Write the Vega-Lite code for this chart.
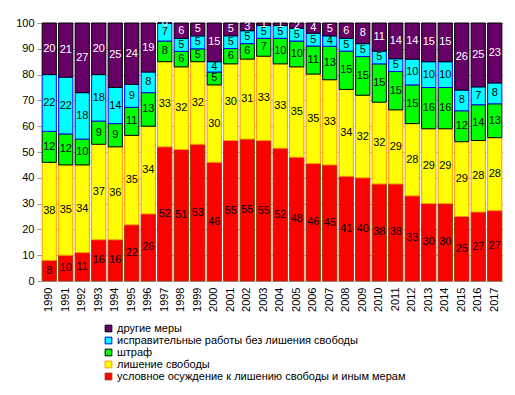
{
  "$schema": "https://vega.github.io/schema/vega-lite/v6.json",
  "width": 462,
  "height": 258,
  "autosize": "none",
  "padding": {"left": 41, "top": 23, "right": 12, "bottom": 114},
  "background": "white",
  "config": {
    "font": "Liberation Sans",
    "view": {"stroke": null},
    "axis": {"labelFont": "Liberation Sans", "labelFontSize": 11, "labelColor": "black"},
    "axisY": {"labelOverlap": false, "domain": false, "tickSize": 4, "tickColor": "#999999", "gridColor": "#c0c0c0", "labelPadding": 3}
  },
  "data": {"values": [
    {"year":"1990","measure":"условное осуждение к лишению  свободы и  иным мерам","k":1,"value":8},
    {"year":"1990","measure":"лишение  свободы","k":2,"value":38},
    {"year":"1990","measure":"штраф","k":3,"value":12},
    {"year":"1990","measure":"исправительные работы без лишения  свободы","k":4,"value":22},
    {"year":"1990","measure":"другие меры","k":5,"value":20},
    {"year":"1991","measure":"условное осуждение к лишению  свободы и  иным мерам","k":1,"value":10},
    {"year":"1991","measure":"лишение  свободы","k":2,"value":35},
    {"year":"1991","measure":"штраф","k":3,"value":12},
    {"year":"1991","measure":"исправительные работы без лишения  свободы","k":4,"value":22},
    {"year":"1991","measure":"другие меры","k":5,"value":21},
    {"year":"1992","measure":"условное осуждение к лишению  свободы и  иным мерам","k":1,"value":11},
    {"year":"1992","measure":"лишение  свободы","k":2,"value":34},
    {"year":"1992","measure":"штраф","k":3,"value":10},
    {"year":"1992","measure":"исправительные работы без лишения  свободы","k":4,"value":18},
    {"year":"1992","measure":"другие меры","k":5,"value":27},
    {"year":"1993","measure":"условное осуждение к лишению  свободы и  иным мерам","k":1,"value":16},
    {"year":"1993","measure":"лишение  свободы","k":2,"value":37},
    {"year":"1993","measure":"штраф","k":3,"value":9},
    {"year":"1993","measure":"исправительные работы без лишения  свободы","k":4,"value":18},
    {"year":"1993","measure":"другие меры","k":5,"value":20},
    {"year":"1994","measure":"условное осуждение к лишению  свободы и  иным мерам","k":1,"value":16},
    {"year":"1994","measure":"лишение  свободы","k":2,"value":36},
    {"year":"1994","measure":"штраф","k":3,"value":9},
    {"year":"1994","measure":"исправительные работы без лишения  свободы","k":4,"value":14},
    {"year":"1994","measure":"другие меры","k":5,"value":25},
    {"year":"1995","measure":"условное осуждение к лишению  свободы и  иным мерам","k":1,"value":22},
    {"year":"1995","measure":"лишение  свободы","k":2,"value":35},
    {"year":"1995","measure":"штраф","k":3,"value":11},
    {"year":"1995","measure":"исправительные работы без лишения  свободы","k":4,"value":9},
    {"year":"1995","measure":"другие меры","k":5,"value":24},
    {"year":"1996","measure":"условное осуждение к лишению  свободы и  иным мерам","k":1,"value":26},
    {"year":"1996","measure":"лишение  свободы","k":2,"value":34},
    {"year":"1996","measure":"штраф","k":3,"value":13},
    {"year":"1996","measure":"исправительные работы без лишения  свободы","k":4,"value":8},
    {"year":"1996","measure":"другие меры","k":5,"value":19},
    {"year":"1997","measure":"условное осуждение к лишению  свободы и  иным мерам","k":1,"value":52},
    {"year":"1997","measure":"лишение  свободы","k":2,"value":33},
    {"year":"1997","measure":"штраф","k":3,"value":8},
    {"year":"1997","measure":"исправительные работы без лишения  свободы","k":4,"value":7},
    {"year":"1997","measure":"другие меры","k":5,"value":0},
    {"year":"1998","measure":"условное осуждение к лишению  свободы и  иным мерам","k":1,"value":51},
    {"year":"1998","measure":"лишение  свободы","k":2,"value":32},
    {"year":"1998","measure":"штраф","k":3,"value":6},
    {"year":"1998","measure":"исправительные работы без лишения  свободы","k":4,"value":5},
    {"year":"1998","measure":"другие меры","k":5,"value":6},
    {"year":"1999","measure":"условное осуждение к лишению  свободы и  иным мерам","k":1,"value":53},
    {"year":"1999","measure":"лишение  свободы","k":2,"value":32},
    {"year":"1999","measure":"штраф","k":3,"value":5},
    {"year":"1999","measure":"исправительные работы без лишения  свободы","k":4,"value":5},
    {"year":"1999","measure":"другие меры","k":5,"value":5},
    {"year":"2000","measure":"условное осуждение к лишению  свободы и  иным мерам","k":1,"value":46},
    {"year":"2000","measure":"лишение  свободы","k":2,"value":30},
    {"year":"2000","measure":"штраф","k":3,"value":5},
    {"year":"2000","measure":"исправительные работы без лишения  свободы","k":4,"value":4},
    {"year":"2000","measure":"другие меры","k":5,"value":15},
    {"year":"2001","measure":"условное осуждение к лишению  свободы и  иным мерам","k":1,"value":55},
    {"year":"2001","measure":"лишение  свободы","k":2,"value":30},
    {"year":"2001","measure":"штраф","k":3,"value":6},
    {"year":"2001","measure":"исправительные работы без лишения  свободы","k":4,"value":5},
    {"year":"2001","measure":"другие меры","k":5,"value":5},
    {"year":"2002","measure":"условное осуждение к лишению  свободы и  иным мерам","k":1,"value":55},
    {"year":"2002","measure":"лишение  свободы","k":2,"value":31},
    {"year":"2002","measure":"штраф","k":3,"value":6},
    {"year":"2002","measure":"исправительные работы без лишения  свободы","k":4,"value":5},
    {"year":"2002","measure":"другие меры","k":5,"value":3},
    {"year":"2003","measure":"условное осуждение к лишению  свободы и  иным мерам","k":1,"value":55},
    {"year":"2003","measure":"лишение  свободы","k":2,"value":33},
    {"year":"2003","measure":"штраф","k":3,"value":7},
    {"year":"2003","measure":"исправительные работы без лишения  свободы","k":4,"value":5},
    {"year":"2003","measure":"другие меры","k":5,"value":1},
    {"year":"2004","measure":"условное осуждение к лишению  свободы и  иным мерам","k":1,"value":52},
    {"year":"2004","measure":"лишение  свободы","k":2,"value":33},
    {"year":"2004","measure":"штраф","k":3,"value":10},
    {"year":"2004","measure":"исправительные работы без лишения  свободы","k":4,"value":5},
    {"year":"2004","measure":"другие меры","k":5,"value":1},
    {"year":"2005","measure":"условное осуждение к лишению  свободы и  иным мерам","k":1,"value":48},
    {"year":"2005","measure":"лишение  свободы","k":2,"value":35},
    {"year":"2005","measure":"штраф","k":3,"value":10},
    {"year":"2005","measure":"исправительные работы без лишения  свободы","k":4,"value":5},
    {"year":"2005","measure":"другие меры","k":5,"value":2},
    {"year":"2006","measure":"условное осуждение к лишению  свободы и  иным мерам","k":1,"value":46},
    {"year":"2006","measure":"лишение  свободы","k":2,"value":35},
    {"year":"2006","measure":"штраф","k":3,"value":11},
    {"year":"2006","measure":"исправительные работы без лишения  свободы","k":4,"value":5},
    {"year":"2006","measure":"другие меры","k":5,"value":4},
    {"year":"2007","measure":"условное осуждение к лишению  свободы и  иным мерам","k":1,"value":45},
    {"year":"2007","measure":"лишение  свободы","k":2,"value":33},
    {"year":"2007","measure":"штраф","k":3,"value":13},
    {"year":"2007","measure":"исправительные работы без лишения  свободы","k":4,"value":4},
    {"year":"2007","measure":"другие меры","k":5,"value":5},
    {"year":"2008","measure":"условное осуждение к лишению  свободы и  иным мерам","k":1,"value":41},
    {"year":"2008","measure":"лишение  свободы","k":2,"value":34},
    {"year":"2008","measure":"штраф","k":3,"value":15},
    {"year":"2008","measure":"исправительные работы без лишения  свободы","k":4,"value":5},
    {"year":"2008","measure":"другие меры","k":5,"value":6},
    {"year":"2009","measure":"условное осуждение к лишению  свободы и  иным мерам","k":1,"value":40},
    {"year":"2009","measure":"лишение  свободы","k":2,"value":32},
    {"year":"2009","measure":"штраф","k":3,"value":15},
    {"year":"2009","measure":"исправительные работы без лишения  свободы","k":4,"value":5},
    {"year":"2009","measure":"другие меры","k":5,"value":8},
    {"year":"2010","measure":"условное осуждение к лишению  свободы и  иным мерам","k":1,"value":38},
    {"year":"2010","measure":"лишение  свободы","k":2,"value":32},
    {"year":"2010","measure":"штраф","k":3,"value":15},
    {"year":"2010","measure":"исправительные работы без лишения  свободы","k":4,"value":5},
    {"year":"2010","measure":"другие меры","k":5,"value":11},
    {"year":"2011","measure":"условное осуждение к лишению  свободы и  иным мерам","k":1,"value":38},
    {"year":"2011","measure":"лишение  свободы","k":2,"value":29},
    {"year":"2011","measure":"штраф","k":3,"value":15},
    {"year":"2011","measure":"исправительные работы без лишения  свободы","k":4,"value":5},
    {"year":"2011","measure":"другие меры","k":5,"value":14},
    {"year":"2012","measure":"условное осуждение к лишению  свободы и  иным мерам","k":1,"value":33},
    {"year":"2012","measure":"лишение  свободы","k":2,"value":28},
    {"year":"2012","measure":"штраф","k":3,"value":15},
    {"year":"2012","measure":"исправительные работы без лишения  свободы","k":4,"value":10},
    {"year":"2012","measure":"другие меры","k":5,"value":14},
    {"year":"2013","measure":"условное осуждение к лишению  свободы и  иным мерам","k":1,"value":30},
    {"year":"2013","measure":"лишение  свободы","k":2,"value":29},
    {"year":"2013","measure":"штраф","k":3,"value":16},
    {"year":"2013","measure":"исправительные работы без лишения  свободы","k":4,"value":10},
    {"year":"2013","measure":"другие меры","k":5,"value":15},
    {"year":"2014","measure":"условное осуждение к лишению  свободы и  иным мерам","k":1,"value":30},
    {"year":"2014","measure":"лишение  свободы","k":2,"value":29},
    {"year":"2014","measure":"штраф","k":3,"value":16},
    {"year":"2014","measure":"исправительные работы без лишения  свободы","k":4,"value":10},
    {"year":"2014","measure":"другие меры","k":5,"value":15},
    {"year":"2015","measure":"условное осуждение к лишению  свободы и  иным мерам","k":1,"value":25},
    {"year":"2015","measure":"лишение  свободы","k":2,"value":29},
    {"year":"2015","measure":"штраф","k":3,"value":12},
    {"year":"2015","measure":"исправительные работы без лишения  свободы","k":4,"value":8},
    {"year":"2015","measure":"другие меры","k":5,"value":26},
    {"year":"2016","measure":"условное осуждение к лишению  свободы и  иным мерам","k":1,"value":27},
    {"year":"2016","measure":"лишение  свободы","k":2,"value":28},
    {"year":"2016","measure":"штраф","k":3,"value":14},
    {"year":"2016","measure":"исправительные работы без лишения  свободы","k":4,"value":7},
    {"year":"2016","measure":"другие меры","k":5,"value":25},
    {"year":"2017","measure":"условное осуждение к лишению  свободы и  иным мерам","k":1,"value":27},
    {"year":"2017","measure":"лишение  свободы","k":2,"value":28},
    {"year":"2017","measure":"штраф","k":3,"value":13},
    {"year":"2017","measure":"исправительные работы без лишения  свободы","k":4,"value":8},
    {"year":"2017","measure":"другие меры","k":5,"value":23}
  ]},
  "transform": [
    {"stack": "value", "groupby": ["year"], "sort": [{"field": "k", "order": "ascending"}], "offset": "normalize", "as": ["v0", "v1"]},
    {"calculate": "(datum.v0 + datum.v1) / 2", "as": "vm"}
  ],
  "encoding": {
    "x": {
      "field": "year", "type": "nominal", "title": null,
      "scale": {"paddingInner": 0.14, "paddingOuter": 0.07},
      "axis": {"labelAngle": -90, "domain": false, "ticks": false, "labelPadding": 6, "labelFontSize": 11}
    }
  },
  "layer": [
    {
      "mark": {"type": "bar", "strokeWidth": 1},
      "encoding": {
        "y": {
          "field": "v0", "type": "quantitative", "title": null,
          "scale": {"domain": [0, 1], "nice": false},
          "axis": {"values": [0, 0.1, 0.2, 0.3, 0.4, 0.5, 0.6, 0.7, 0.8, 0.9, 1], "labelExpr": "format(datum.value * 100, 'd')", "labelOverlap": false}
        },
        "y2": {"field": "v1"},
        "fill": {
          "field": "measure", "type": "nominal", "title": null,
          "scale": {
            "domain": ["другие меры", "исправительные работы без лишения  свободы", "штраф", "лишение  свободы", "условное осуждение к лишению  свободы и  иным мерам"],
            "range": ["#660066", "#00FFFF", "#00FF00", "#FFFF00", "#FF0000"]
          },
          "legend": {
            "orient": "none", "legendX": 62, "legendY": 300, "direction": "vertical",
            "symbolType": "square", "symbolSize": 45, "symbolStrokeWidth": 1,
            "labelFont": "Liberation Sans", "labelFontSize": 11, "labelColor": "black",
            "rowPadding": 0, "labelOffset": 3, "labelLimit": 400
          }
        },
        "stroke": {
          "field": "measure", "type": "nominal", "title": null,
          "scale": {
            "domain": ["другие меры", "исправительные работы без лишения  свободы", "штраф", "лишение  свободы", "условное осуждение к лишению  свободы и  иным мерам"],
            "range": ["#000000", "#0000FF", "#000000", "#FF9900", "#993300"]
          }
        }
      }
    },
    {
      "mark": {"type": "text", "font": "Liberation Sans", "fontSize": 11, "baseline": "middle", "align": "center"},
      "encoding": {
        "y": {"field": "vm", "type": "quantitative",
          "axis": {"values": [0, 0.1, 0.2, 0.3, 0.4, 0.5, 0.6, 0.7, 0.8, 0.9, 1], "labelExpr": "format(datum.value * 100, 'd')", "labelOverlap": false}},
        "text": {"field": "value", "type": "quantitative"},
        "color": {
          "condition": {"test": "datum.k === 5", "value": "white"},
          "value": "black"
        }
      }
    }
  ]
}
